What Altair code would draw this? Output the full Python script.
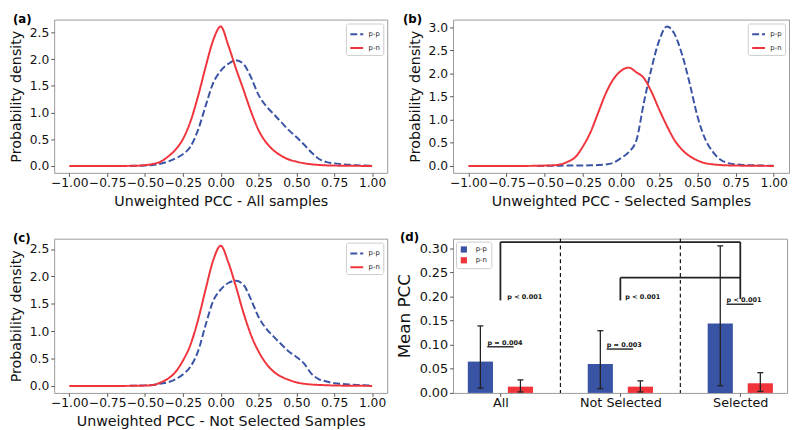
import altair as alt
import pandas as pd

BLUE = "#3a54a5"
RED = "#f0343c"
FONT = "DejaVu Sans"

# ---------------- density curves (panels a-c) ----------------
X_GRID = [-1.00, -0.95, -0.90, -0.85, -0.80, -0.75, -0.70, -0.65, -0.60, -0.55,
          -0.50, -0.45, -0.40, -0.35, -0.30, -0.25, -0.20, -0.15, -0.10, -0.05,
          0.00, 0.05, 0.10, 0.15, 0.20, 0.25, 0.30, 0.35, 0.40, 0.45,
          0.50, 0.55, 0.60, 0.65, 0.70, 0.75, 0.80, 0.85, 0.90, 0.95, 1.00]

N = None
RED_A = [0, 0, 0, 0, 0, 0, 0, 0, 0.001, 0.004,
         0.015, 0.035, 0.075, 0.17, 0.30, 0.50, 0.83, 1.30, 1.85, 2.35,
         2.61, 2.26, 1.83, 1.43, 1.02, 0.67, 0.44, 0.29, 0.19, 0.12,
         0.08, 0.05, 0.03, 0.018, 0.01, 0.006, 0.004, 0.002, 0.001, 0, 0]
BLUE_A = [N, N, N, N, N, N, N, N, 0.0, 0.003,
          0.006, 0.015, 0.04, 0.08, 0.14, 0.22, 0.36, 0.67, 1.12, 1.55,
          1.78, 1.91, 1.98, 1.91, 1.66, 1.33, 1.12, 0.97, 0.82, 0.67,
          0.54, 0.40, 0.25, 0.13, 0.07, 0.05, 0.03, 0.02, 0.012, 0.008, 0.005]

RED_B = [0, 0, 0, 0, 0, 0, 0, 0, 0.001, 0.003,
         0.007, 0.012, 0.03, 0.09, 0.19, 0.42, 0.73, 1.15, 1.57, 1.88,
         2.06, 2.13, 2.03, 1.90, 1.60, 1.22, 0.87, 0.56, 0.35, 0.21,
         0.12, 0.06, 0.035, 0.02, 0.012, 0.008, 0.005, 0.003, 0.002, 0.001, 0]
BLUE_B = [N, N, N, N, N, N, N, N, N, 0.0,
          0.003, 0.005, 0.006, 0.007, 0.008, 0.01, 0.013, 0.018, 0.03, 0.07,
          0.17, 0.30, 0.55, 1.38, 2.12, 2.72, 3.02, 2.86, 2.41, 1.78,
          1.08, 0.59, 0.31, 0.14, 0.06, 0.035, 0.02, 0.015, 0.01, 0.007, 0.005]

RED_C = [0, 0, 0, 0, 0, 0, 0, 0, 0.001, 0.003,
         0.006, 0.015, 0.06, 0.13, 0.25, 0.46, 0.75, 1.20, 1.76, 2.29,
         2.56, 2.26, 1.82, 1.34, 0.93, 0.63, 0.41, 0.26, 0.17, 0.11,
         0.065, 0.04, 0.025, 0.018, 0.012, 0.008, 0.005, 0.003, 0.002, 0.001, 0]
BLUE_C = [N, N, N, N, N, N, N, N, 0.003, 0.006,
          0.01, 0.015, 0.04, 0.065, 0.12, 0.21, 0.35, 0.63, 1.11, 1.55,
          1.76, 1.88, 1.92, 1.85, 1.58, 1.26, 1.05, 0.90, 0.76, 0.63,
          0.53, 0.41, 0.22, 0.12, 0.08, 0.05, 0.035, 0.025, 0.018, 0.012, 0.008]

SERIES = ["p-p", "p-n"]
X_TICKS = [-1.0, -0.75, -0.5, -0.25, 0.0, 0.25, 0.5, 0.75, 1.0]
Y_TICKS_AC = [0.0, 0.5, 1.0, 1.5, 2.0, 2.5]
Y_TICKS_B = [0.0, 0.5, 1.0, 1.5, 2.0, 2.5, 3.0]

# ---------------- bar panel (d) ----------------
CATS = ["All", "Not Selected", "Selected"]
CAT_POS = [0, 1, 2]
PP_MEAN = [0.065, 0.060, 0.144]
PN_MEAN = [0.013, 0.013, 0.020]
PP_LO = [0.010, 0.009, 0.015]
PP_HI = [0.139, 0.129, 0.305]
PN_LO = [0.002, 0.002, 0.003]
PN_HI = [0.027, 0.025, 0.042]
Y_TICKS_D = [0.0, 0.05, 0.10, 0.15, 0.20, 0.25, 0.30]

SEPARATORS = [0.5, 1.5]
# significance brackets (segments)
BR_X1 = [0, 0, 2, 1, 1]
BR_X2 = [2, 0, 2, 2, 1]
BR_Y1 = [0.313, 0.313, 0.313, 0.239, 0.239]
BR_Y2 = [0.313, 0.192, 0.195, 0.239, 0.192]
# underlines under p-value labels
UL_X1 = [-0.11, 0.886, 1.885]
UL_X2 = [0.11, 1.106, 2.11]
UL_Y = [0.0957, 0.091, 0.184]
# p-value labels
P_TEXT = ["p = 0.004", "p = 0.003", "p < 0.001", "p < 0.001", "p < 0.001"]
P_X = [-0.108, 0.886, 0.057, 1.04, 1.885]
P_Y = [0.1035, 0.0995, 0.1985, 0.1985, 0.1925]

BAR_OFFSET = 0.167
BAR_HALF = 0.105
CAP_HALF = 0.025

MINUS_EXPR = "replace(format(datum.value, '{f}'), '-', '\u2212')"


def line_legend():
    return alt.Legend(title=None, orient="top-right", offset=4, labelFontSize=7,
                      labelFont=FONT, symbolType="stroke", symbolStrokeWidth=2,
                      symbolSize=170, fillColor="white", strokeColor="#cccccc",
                      padding=3, rowPadding=2, labelOffset=4, cornerRadius=2,
                      labelColor="#222")


def title_params(letter, dx):
    return alt.TitleParams(text=letter, anchor="start", frame="group", dx=dx,
                           offset=-6, fontSize=12, fontWeight="bold", font=FONT,
                           color="black")


def density_panel(red, blue, letter, xtitle, ydom, yticks, w, h, dx):
    df = pd.DataFrame({
        "x": X_GRID + X_GRID,
        "y": blue + red,
        "series": ["p-p"] * len(X_GRID) + ["p-n"] * len(X_GRID),
    }).dropna()
    base = alt.Chart(df).encode(
        x=alt.X("x:Q", scale=alt.Scale(domain=[-1.1, 1.1], nice=False, zero=False),
                axis=alt.Axis(values=X_TICKS, labelExpr=MINUS_EXPR.format(f=".2f"),
                              title=xtitle)),
        y=alt.Y("y:Q", scale=alt.Scale(domain=ydom, nice=False, zero=False),
                axis=alt.Axis(values=yticks, format=".1f", title="Probability density",
                              labelPadding=2)),
        color=alt.Color("series:N", scale=alt.Scale(domain=SERIES, range=[BLUE, RED]),
                        legend=line_legend()),
        strokeDash=alt.StrokeDash("series:N",
                                  scale=alt.Scale(domain=SERIES, range=[[7, 3], [1, 0]]),
                                  legend=line_legend()),
    )
    bl = base.transform_filter(alt.datum.series == "p-p").mark_line(
        strokeWidth=2, interpolate="monotone")
    rd = base.transform_filter(alt.datum.series == "p-n").mark_line(
        strokeWidth=2, interpolate="monotone")
    return alt.layer(bl, rd).properties(width=w, height=h,
                                        title=title_params(letter, dx))


pa = density_panel(RED_A, BLUE_A, "(a)", "Unweighted PCC - All samples",
                   [-0.13, 2.74], Y_TICKS_AC, 339, 156, -42)
pb = density_panel(RED_B, BLUE_B, "(b)", "Unweighted PCC - Selected Samples",
                   [-0.15, 3.17], Y_TICKS_B, 342, 156, -51)
pc = density_panel(RED_C, BLUE_C, "(c)", "Unweighted PCC - Not Selected Samples",
                   [-0.128, 2.69], Y_TICKS_AC, 339, 157, -42)

# ---- panel d data
rows = []
for i, c in enumerate(CATS):
    rows.append({"idx": i, "series": "p-p", "mean": PP_MEAN[i], "lo": PP_LO[i], "hi": PP_HI[i],
                 "xc": CAT_POS[i] - BAR_OFFSET})
    rows.append({"idx": i, "series": "p-n", "mean": PN_MEAN[i], "lo": PN_LO[i], "hi": PN_HI[i],
                 "xc": CAT_POS[i] + BAR_OFFSET})
bars_df = pd.DataFrame(rows)
bars_df["x0"] = bars_df["xc"] - BAR_HALF
bars_df["x1"] = bars_df["xc"] + BAR_HALF
bars_df["c0"] = bars_df["xc"] - CAP_HALF
bars_df["c1"] = bars_df["xc"] + CAP_HALF

xs = alt.Scale(domain=[-0.395, 2.39], nice=False, zero=False)
ys = alt.Scale(domain=[0, 0.32], nice=False, zero=False)
label_expr = "['All', 'Not Selected', 'Selected'][datum.value]"
X_AXIS_D = alt.Axis(values=CAT_POS, labelExpr=label_expr, title=None, labelFontSize=13)
Y_AXIS_D = alt.Axis(values=Y_TICKS_D, format=".2f", title="Mean PCC",
                    titleFontSize=17, labelFontSize=13, labelPadding=2)


def XD(field):
    return alt.X(field, type="quantitative", scale=xs, axis=X_AXIS_D)


def YD(field):
    return alt.Y(field, type="quantitative", scale=ys, axis=Y_AXIS_D)


bar_layer = alt.Chart(bars_df).mark_bar().encode(
    x=XD("x0"), x2="x1:Q", y=YD("mean"), y2=alt.datum(0),
    color=alt.Color("series:N", scale=alt.Scale(domain=SERIES, range=[BLUE, RED]),
                    legend=alt.Legend(title=None, orient="top-left", offset=3,
                                      labelFontSize=7, labelFont=FONT, symbolType="square",
                                      symbolSize=40, fillColor="white",
                                      strokeColor="#cccccc", padding=4, rowPadding=3,
                                      labelOffset=8, cornerRadius=2, labelColor="#222")),
)
err_v = alt.Chart(bars_df).mark_rule(color="#222", strokeWidth=1.3).encode(
    x=XD("xc"), y=YD("lo"), y2="hi:Q")
cap_lo = alt.Chart(bars_df).mark_rule(color="#222", strokeWidth=1.3).encode(
    x=XD("c0"), x2="c1:Q", y=YD("lo"))
cap_hi = alt.Chart(bars_df).mark_rule(color="#222", strokeWidth=1.3).encode(
    x=XD("c0"), x2="c1:Q", y=YD("hi"))

sep_df = pd.DataFrame({"x": SEPARATORS})
sep = alt.Chart(sep_df).mark_rule(color="black", strokeWidth=1.1, strokeDash=[4, 3]).encode(
    x=XD("x"))

br_df = pd.DataFrame({"x1": BR_X1, "x2": BR_X2, "y1": BR_Y1, "y2": BR_Y2})
brackets = alt.Chart(br_df).mark_rule(color="#222", strokeWidth=1.8).encode(
    x=XD("x1"), x2="x2:Q", y=YD("y1"), y2="y2:Q")

ul_df = pd.DataFrame({"x1": UL_X1, "x2": UL_X2, "y": UL_Y})
underl = alt.Chart(ul_df).mark_rule(color="#222", strokeWidth=1.4).encode(
    x=XD("x1"), x2="x2:Q", y=YD("y"))

pt_df = pd.DataFrame({"t": P_TEXT, "x": P_X, "y": P_Y})
ptext = alt.Chart(pt_df).mark_text(align="left", baseline="middle", fontSize=6.6,
                                   fontWeight="bold", font=FONT, color="#111").encode(
    x=XD("x"), y=YD("y"), text="t:N")

pd_ = alt.layer(bar_layer, err_v, cap_lo, cap_hi, sep, brackets, underl, ptext).properties(
    width=340, height=157, title=title_params("(d)", -54))

chart = alt.concat(
    pa, pb, pc, pd_, columns=2, bounds="flush",
    spacing={"row": 67, "column": 67}
).resolve_scale(
    color="independent", strokeDash="independent"
).properties(
    padding={"left": 0, "top": 0, "right": 1, "bottom": 0}, background="white"
).configure_view(
    stroke="#999999", strokeWidth=1
).configure_axis(
    domain=False, grid=False, ticks=True, tickColor="#555555", tickSize=3.5,
    labelFont=FONT, labelFontSize=12.5, labelColor="#111111", labelPadding=0.5,
    labelOverlap=False, labelFlush=False, labelBound=False,
    titleFont=FONT, titleFontSize=14.5, titleFontWeight="normal", titleColor="#111111",
    titlePadding=6
)

chart.save("out.html", embed_options={"renderer": "svg", "actions": False})
